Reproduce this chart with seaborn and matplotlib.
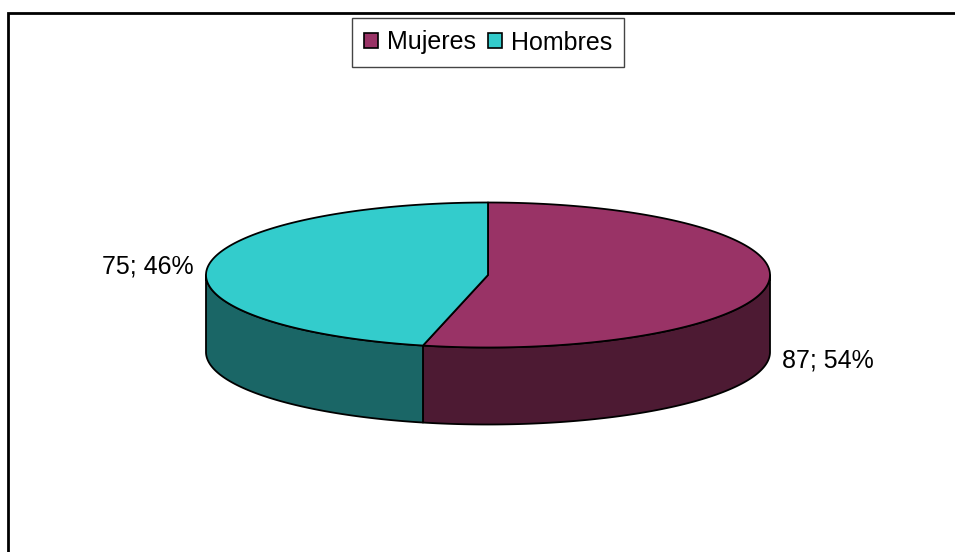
import numpy as np
import matplotlib
matplotlib.use('Agg')
import matplotlib.pyplot as plt
from matplotlib.patches import Polygon, Patch, Rectangle
import seaborn as sns

# ---- data ----
categories = ['Mujeres', 'Hombres']
values = [87, 75]
top_colors = ['#993366', '#33CCCC']
side_colors = ['#4D1A33', '#1A6666']

sns.set_theme(style='white')
plt.rcParams['font.family'] = ['Liberation Sans', 'DejaVu Sans']
plt.rcParams['text.color'] = 'black'

W, H = 955, 552
fig = plt.figure(figsize=(W / 100, H / 100), dpi=100)
ax = fig.add_axes([0, 0, 1, 1])
# layout: pie centre at pixel (488, 275), radius 282 px
cx_px, cy_px, r_px = 488, 275, 282
ax.set_xlim(-cx_px / r_px, (W - cx_px) / r_px)
ax.set_ylim(-(H - cy_px) / r_px, cy_px / r_px)
ax.axis('off')

tilt = 72.5 / r_px
depth = 77 / r_px

vals = np.array(values, dtype=float)
fracs = vals / vals.sum()
start = 90.0
bounds = start - 360.0 * np.concatenate([[0.0], np.cumsum(fracs)])


def arc(a0, a1, n=300, dy=0.0):
    phi = np.radians(np.linspace(a0, a1, n))
    return np.column_stack([np.cos(phi), tilt * np.sin(phi) + dy])


edge_kw = dict(edgecolor='black', linewidth=1.3, joinstyle='round')

# side walls (front half only)
for i in range(len(vals)):
    hi, lo = bounds[i], bounds[i + 1]
    for k in (-360.0, 0.0, 360.0):
        a_lo = max(lo, -180.0 + k)
        a_hi = min(hi, 0.0 + k)
        if a_hi > a_lo:
            top = arc(a_lo, a_hi)
            bot = arc(a_hi, a_lo, dy=-depth)
            ax.add_patch(Polygon(np.vstack([top, bot]), closed=True,
                                 facecolor=side_colors[i], **edge_kw))

# top faces
for i in range(len(vals)):
    pts = np.vstack([[0.0, 0.0], arc(bounds[i], bounds[i + 1])])
    ax.add_patch(Polygon(pts, closed=True, facecolor=top_colors[i], **edge_kw))

# data labels
for i in range(len(vals)):
    mid = np.radians((bounds[i] + bounds[i + 1]) / 2)
    x = 1.05 * np.cos(mid)
    y = tilt * np.sin(mid)
    if np.sin(mid) < 0:
        y -= depth
    ha = 'left' if np.cos(mid) > 0 else 'right'
    ax.text(x, y, f"{int(vals[i])}; {round(fracs[i] * 100):.0f}%",
            ha=ha, va='center', fontsize=18, color='black')

# legend
handles = [Patch(facecolor=top_colors[i], edgecolor='black', linewidth=1.2,
                 label=categories[i]) for i in range(len(categories))]
leg = fig.legend(handles=handles, loc='upper center',
                 bbox_to_anchor=(cx_px / W, 1 - 18 / H), ncol=2,
                 frameon=True, fancybox=False, framealpha=1,
                 edgecolor='#444444', fontsize=18, labelcolor='black',
                 handlelength=0.55, handleheight=0.55, handletextpad=0.35,
                 columnspacing=0.5, borderpad=0.5, borderaxespad=0)
leg.get_frame().set_linewidth(1.0)

# outer chart frame (only top/left visible)
fig.add_artist(Rectangle((7.5 / W, -0.05), 1.2, 1 - 12.5 / H + 0.05,
                         transform=fig.transFigure, fill=False,
                         edgecolor='black', linewidth=2))

fig.savefig('out.png', dpi=100)
